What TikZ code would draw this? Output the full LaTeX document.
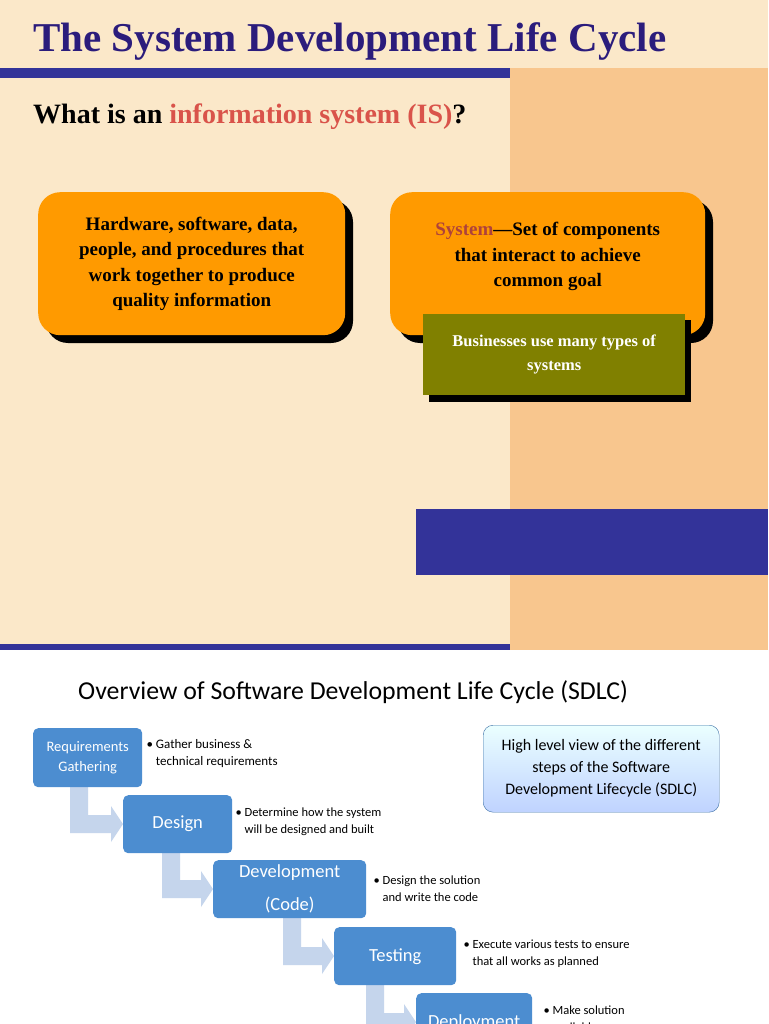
\documentclass[tikz,border=0pt]{standalone}
\usepackage{fontspec}
\setmainfont{Liberation Serif}
\newfontfamily\carl{Carlito}
\begin{document}
\begin{tikzpicture}[x=1pt,y=-1pt]
\definecolor{cream}{HTML}{FBE8C9}
\definecolor{tan}{HTML}{F8C68E}
\definecolor{navy}{HTML}{333399}
\definecolor{titleblue}{HTML}{2B1C7C}
\definecolor{org}{HTML}{FF9A00}
\definecolor{olive}{HTML}{808000}
\definecolor{redt}{HTML}{D9534A}
\definecolor{bluebox}{HTML}{4C8DD0}
\definecolor{arrowc}{HTML}{C5D5EC}
\tikzset{
 obox/.style={fill=org,rounded corners=22pt,minimum width=307pt,minimum height=143pt,align=center,font=\bfseries\fontsize{19}{25.5}\selectfont},
 shadowbox/.style={fill=black,rounded corners=22pt},
 stepbox/.style={fill=bluebox,rounded corners=5pt,text=white,align=center,font=\carl\fontsize{18.5}{22}\selectfont,inner sep=0pt},
 bullet/.style={anchor=north west,align=left,font=\carl\fontsize{13}{17}\selectfont},
 larrow/.style={fill=arrowc}
}
\useasboundingbox (0,0) rectangle (768,1024);
\fill[cream] (0,0) rectangle (768,650);
\fill[tan] (510,68) rectangle (768,650);
\fill[navy] (0,68) rectangle (510,78);
\fill[navy] (0,644) rectangle (510,650);
\fill[navy] (416,509) rectangle (768,575);
\fill[white] (0,650) rectangle (768,1024);
\node[anchor=base west,text=titleblue,font=\bfseries\fontsize{41}{44}\selectfont,inner sep=0pt] (title) at (33,52) {The System Development Life Cycle};
\node[anchor=base west,font=\bfseries\fontsize{28}{30}\selectfont,inner sep=0pt] (q) at (33,124) {What is an \textcolor{redt}{information system (IS)}?};
\fill[shadowbox] (46,200) rectangle (353,343);
\node[obox,anchor=north west] (hw) at (38,192) {Hardware, software, data,\\people, and procedures that\\work together to produce\\quality information};
\fill[shadowbox] (398,200) rectangle (713,343);
\node[obox,minimum width=315pt,anchor=north west,text depth=18pt] (sys) at (390,192) {\textcolor{redt!80!black}{System}---Set of components\\that interact to achieve\\common goal};
\fill[black] (429,320) rectangle (691,402);
\node[fill=olive,anchor=north west,minimum width=262pt,minimum height=81pt,text=white,align=center,font=\bfseries\fontsize{16.5}{24}\selectfont] (biz) at (423,314) {Businesses use many types of\\systems};
\node[anchor=base west,font=\carl\fontsize{25.8}{28}\selectfont,inner sep=0pt] (sdlc) at (78,699) {Overview of Software Development Life Cycle (SDLC)};
\foreach \x/\ya/\yc/\xl in {70/787/824/123, 162/853/889/213, 283/918/956/334, 366/985/1022/416}{
  \fill[larrow] (\x,\ya) -- (\x+18,\ya) -- (\x+18,\yc-9) -- (\xl-12,\yc-9) -- (\xl-12,\yc-18) -- (\xl,\yc) -- (\xl-12,\yc+18) -- (\xl-12,\yc+9) -- (\x,\yc+9) -- cycle;
}
\node[stepbox,minimum width=109pt,minimum height=59pt,font=\carl\fontsize{14.5}{20}\selectfont,anchor=north west] (req) at (33,728) {Requirements\\Gathering};
\node[stepbox,minimum width=109pt,minimum height=58pt,anchor=north west] (des) at (123,795) {Design};
\node[stepbox,minimum width=153pt,minimum height=58pt,anchor=north west,font=\carl\fontsize{18.5}{33}\selectfont] (dev) at (213,860) {Development\\(Code)};
\node[stepbox,minimum width=122pt,minimum height=58pt,anchor=north west] (tst) at (334,927) {Testing};
\node[stepbox,minimum width=116pt,minimum height=58pt,anchor=north west] (dep) at (416,993) {Deployment};
\node[bullet] (r1) at (143,736) {\textbullet\ Gather business \&\\\hphantom{\textbullet\ }technical requirements};
\node[bullet,font=\carl\fontsize{12.5}{17}\selectfont] (r2) at (232,804) {\textbullet\ Determine how the system\\\hphantom{\textbullet\ }will be designed and built};
\node[bullet,font=\carl\fontsize{12.5}{17}\selectfont] (r3) at (370,872) {\textbullet\ Design the solution\\\hphantom{\textbullet\ }and write the code};
\node[bullet,font=\carl\fontsize{12.5}{17}\selectfont] (r4) at (460,936) {\textbullet\ Execute various tests to ensure\\\hphantom{\textbullet\ }that all works as planned};
\node[bullet,font=\carl\fontsize{12.5}{17}\selectfont] (r5) at (540,1002) {\textbullet\ Make solution\\\hphantom{\textbullet\ }available};
\node[draw=bluebox!80!black,top color=cyan!8,bottom color=cyan!30!blue!25,rounded corners=10pt,minimum width=236pt,minimum height=87pt,anchor=north west,align=center,font=\carl\fontsize{16}{22}\selectfont] (hl) at (483,725) {High level view of the different\\steps of the Software\\Development Lifecycle (SDLC)};
\end{tikzpicture}
\end{document}
